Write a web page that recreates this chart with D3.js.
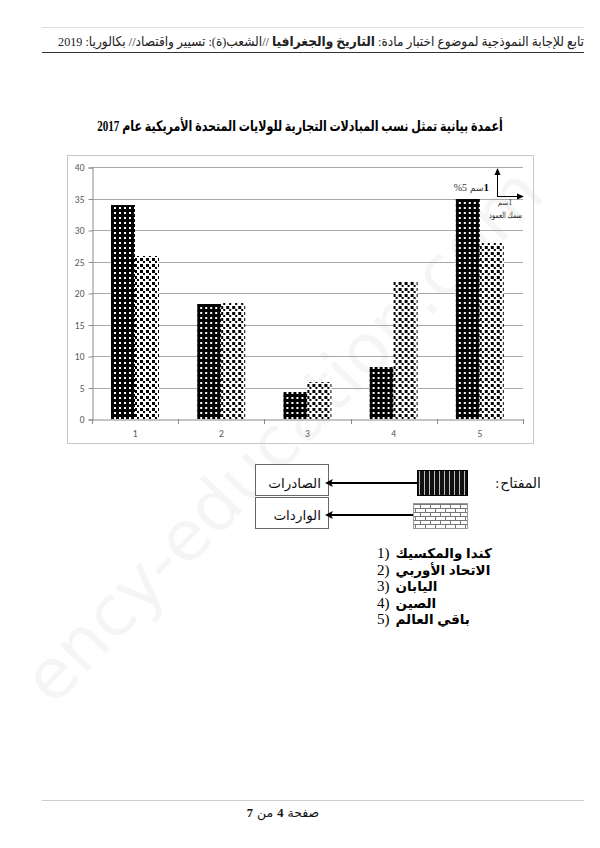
<!DOCTYPE html>
<html><head><meta charset="utf-8">
<script src="https://cdn.jsdelivr.net/npm/d3@7/dist/d3.min.js"></script>
<style>html,body{margin:0;padding:0;background:#fff;}svg{display:block;}</style>
</head><body>
<svg id="chart" width="600" height="848"></svg>
<script>
// ---- data ----
const categories = ["1", "2", "3", "4", "5"];
const seriesNames = ["الصادرات", "الواردات"];
const exportsValues = [34, 18.2, 4.3, 8.3, 35];
const importsValues = [25.8, 18.4, 5.8, 21.8, 27.9];
const yTickValues = [0, 5, 10, 15, 20, 25, 30, 35, 40];
const regionNames = ["كندا والمكسيك", "الاتحاد الأوربي", "اليابان", "الصين", "باقي العالم"];
const headerText = ["تابع للإجابة النموذجية لموضوع اختبار مادة: ", "التاريخ والجغرافيا", " //الشعب(ة): تسيير واقتصاد// بكالوريا: 2019"];
const titleText = "أعمدة بيانية تمثل نسب المبادلات التجارية للولايات المتحدة الأمريكية عام 2017";

const svg = d3.select("#chart");
const AR = "'Liberation Serif','DejaVu Sans',serif";
const ARS = "'Liberation Sans','DejaVu Sans',sans-serif";

// place pieces of text in visual left-to-right order
function run(parent, x, y, align, pieces, gap) {
  gap = gap || 0;
  const nodes = pieces.map(p => {
    const t = parent.append("text").attr("y", y).attr("text-anchor", "start").attr("direction", "ltr")
      .attr("font-family", p.font || AR).attr("font-size", p.size || 13)
      .attr("font-weight", p.weight || "normal").attr("fill", p.fill || "#111").text(p.t);
    return { t, w: t.node().getComputedTextLength(), g: p.gap == null ? gap : p.gap };
  });
  const total = nodes.reduce((s, n, i) => s + n.w + (i ? n.g : 0), 0);
  let cx = align === "end" ? x - total : align === "middle" ? x - total / 2 : x;
  nodes.forEach((n, i) => { if (i) cx += n.g; n.t.attr("x", cx); cx += n.w; });
}
// squeeze a text (drawn at origin) horizontally to a target width
function squeeze(t, tx, ty, target) {
  const w = t.node().getComputedTextLength();
  const sx = Math.min(1, target / w);
  t.attr("transform", `translate(${tx},${ty}) scale(${sx},1)`);
}

// ---- patterns ----
const defs = svg.append("defs");
const pDots = defs.append("pattern").attr("id", "pDots").attr("patternUnits", "userSpaceOnUse").attr("width", 5).attr("height", 5);
pDots.append("rect").attr("width", 5).attr("height", 5).attr("fill", "#000");
pDots.append("rect").attr("x", 2).attr("y", 2).attr("width", 2).attr("height", 2).attr("fill", "#fff");

const pChk = defs.append("pattern").attr("id", "pChk").attr("patternUnits", "userSpaceOnUse").attr("width", 6).attr("height", 6);
pChk.append("rect").attr("width", 6).attr("height", 6).attr("fill", "#fff");
pChk.append("rect").attr("x", 0).attr("y", 0).attr("width", 3).attr("height", 3).attr("fill", "#000");
pChk.append("rect").attr("x", 3).attr("y", 3).attr("width", 2).attr("height", 2).attr("fill", "#000");

const pStripe = defs.append("pattern").attr("id", "pStripe").attr("patternUnits", "userSpaceOnUse").attr("width", 5).attr("height", 5);
pStripe.append("rect").attr("width", 5).attr("height", 5).attr("fill", "#111");
pStripe.append("rect").attr("x", 4).attr("width", 1).attr("height", 5).attr("fill", "#bbb");

const pBrick = defs.append("pattern").attr("id", "pBrick").attr("patternUnits", "userSpaceOnUse").attr("width", 10).attr("height", 8);
pBrick.append("rect").attr("width", 10).attr("height", 8).attr("fill", "#fff");
pBrick.append("path").attr("d", "M0,0.5H10M0,4.5H10M0.5,0V4.5M5.5,4.5V8").attr("stroke", "#777").attr("stroke-width", 1).attr("fill", "none");

// ---- watermark (behind) ----
svg.append("text").attr("transform", "translate(300,452) rotate(-46)").attr("text-anchor", "middle")
  .attr("font-family", "'DejaVu Sans',sans-serif").attr("font-size", 70).attr("fill", "#000").attr("fill-opacity", 0.04)
  .text("ency-education.com");

// ---- header ----
svg.append("line").attr("x1", 42).attr("x2", 584).attr("y1", 27.5).attr("y2", 27.5).attr("stroke", "#ddd");
const hdr = svg.append("text").attr("x", 0).attr("y", 0).attr("direction", "rtl").attr("text-anchor", "start")
  .attr("font-family", AR).attr("font-size", 13.5).attr("fill", "#222");
hdr.append("tspan").text(headerText[0]);
hdr.append("tspan").attr("font-weight", "bold").text(headerText[1]);
hdr.append("tspan").text(headerText[2]);
squeeze(hdr, 584, 46, 526);
svg.append("line").attr("x1", 42).attr("x2", 584).attr("y1", 52.5).attr("y2", 52.5).attr("stroke", "#333").attr("stroke-width", 1);

// ---- title ----
const title = svg.append("text").attr("x", 0).attr("y", 0).attr("text-anchor", "middle")
  .attr("direction", "rtl").attr("font-family", AR).attr("font-weight", "bold").attr("font-size", 14.5).attr("fill", "#000")
  .text(titleText);
squeeze(title, 300, 131, 406);

// ---- chart frame ----
svg.append("rect").attr("x", 67.5).attr("y", 155.5).attr("width", 466).attr("height", 288).attr("fill", "none").attr("stroke", "#c8c8c8");

const x = d3.scaleBand().domain(categories).range([92, 523]).paddingInner(0).paddingOuter(0);
const bw = x.bandwidth();
const xs = d3.scaleBand().domain(seriesNames).range([bw * 0.22, bw * 0.78]).padding(0);
const y = d3.scaleLinear().domain([0, 40]).range([419, 167]);

// gridlines
svg.append("g").selectAll("line").data(yTickValues.filter(d => d > 0)).join("line")
  .attr("x1", 92).attr("x2", 523).attr("y1", d => Math.round(y(d)) + 0.5).attr("y2", d => Math.round(y(d)) + 0.5)
  .attr("stroke", "#a8a8a8");

// y axis
const yAxis = svg.append("g").attr("transform", "translate(92.5,0.5)")
  .call(d3.axisLeft(y).tickValues(yTickValues).tickSize(4).tickPadding(4));
yAxis.select(".domain").attr("stroke", "#8a8a8a");
yAxis.selectAll(".tick line").attr("stroke", "#8a8a8a");
yAxis.selectAll("text").attr("font-family", "Carlito,'Liberation Sans',sans-serif").attr("font-size", 9.5).attr("fill", "#555");

// bars
const rows = categories.map((c, i) => ({ c, vals: [exportsValues[i], importsValues[i]] }));
const groups = svg.append("g").selectAll("g").data(rows).join("g").attr("transform", d => `translate(${x(d.c)},0)`);
groups.selectAll("rect").data(d => d.vals.map((v, j) => ({ s: seriesNames[j], v, j }))).join("rect")
  .attr("x", d => Math.round(xs(d.s))).attr("width", Math.round(xs.bandwidth()))
  .attr("y", d => Math.round(y(d.v))).attr("height", d => Math.round(y(0)) - Math.round(y(d.v)))
  .attr("fill", d => d.j === 0 ? "url(#pDots)" : "url(#pChk)");

// x axis
const xAxis = svg.append("g").attr("transform", "translate(0,419.5)")
  .call(d3.axisBottom(x).tickSize(0).tickPadding(11));
xAxis.select(".domain").attr("stroke", "#8a8a8a");
xAxis.selectAll("text").attr("font-family", "Carlito,'Liberation Sans',sans-serif").attr("font-size", 9.5).attr("fill", "#555");
svg.append("g").selectAll("line").data(categories.concat(["end"])).join("line")
  .attr("x1", d => Math.round(d === "end" ? x.range()[1] : x(d)) + 0.5)
  .attr("x2", d => Math.round(d === "end" ? x.range()[1] : x(d)) + 0.5)
  .attr("y1", 419).attr("y2", 424).attr("stroke", "#8a8a8a");

// scale annotation
const ann = svg.append("g").attr("stroke", "#000").attr("fill", "#000");
ann.append("line").attr("x1", 497.5).attr("x2", 497.5).attr("y1", 197).attr("y2", 172).attr("stroke-width", 1);
ann.append("path").attr("d", "M497.5,168 L494.5,175 L500.5,175 Z").attr("stroke", "none");
ann.append("line").attr("x1", 497).attr("x2", 519).attr("y1", 196.5).attr("y2", 196.5).attr("stroke-width", 1);
ann.append("path").attr("d", "M524,196.5 L517,193.5 L517,199.5 Z").attr("stroke", "none");
const annG = svg.append("g");
run(annG, 489, 191, "end", [
  { t: "%5", size: 10, fill: "#333" },
  { t: "سم", size: 9, fill: "#333", gap: 3 },
  { t: "1", size: 11, weight: "bold", fill: "#000", gap: 0 }
]);
run(annG, 505, 205, "middle", [
  { t: "سم", size: 7, fill: "#333" },
  { t: "1", size: 8, fill: "#333" }
]);
const thick = annG.append("text").attr("x", 0).attr("y", 0).attr("direction", "rtl").attr("text-anchor", "start")
  .attr("font-family", AR).attr("font-size", 8.5).attr("fill", "#222").text("سمك العمود");
squeeze(thick, 522, 218, 33);

// ---- legend ----
run(svg.append("g"), 541, 488, "end", [
  { t: ":", size: 14, fill: "#111" },
  { t: "المفتاح", size: 14, fill: "#111", gap: 1 }
]);
const legendRows = [
  { name: seriesNames[0], fill: "url(#pStripe)", sx: 417, sy: 470, sw: 50, sh: 25, by: 464, ay: 483 },
  { name: seriesNames[1], fill: "url(#pBrick)", sx: 413, sy: 503, sw: 54, sh: 25, by: 497, ay: 515 }
];
const lg = svg.append("g");
legendRows.forEach(r => {
  lg.append("rect").attr("x", 255.5).attr("y", r.by + 0.5).attr("width", 73).attr("height", 31).attr("fill", "#fff").attr("stroke", "#666");
  run(lg, 321, r.ay + 5, "end", [{ t: r.name, size: 13.5, fill: "#111" }]);
  lg.append("rect").attr("x", r.sx + 0.5).attr("y", r.sy + 0.5).attr("width", r.sw).attr("height", r.sh)
    .attr("fill", r.fill).attr("stroke", r.name === seriesNames[0] ? "#000" : "#999");
  lg.append("line").attr("x1", r.sx).attr("x2", 331).attr("y1", r.ay).attr("y2", r.ay).attr("stroke", "#000").attr("stroke-width", 2);
  lg.append("path").attr("d", `M325,${r.ay} L333,${r.ay - 4} L331,${r.ay} L333,${r.ay + 4} Z`).attr("fill", "#000");
});

// ---- region list ----
const list = svg.append("g");
regionNames.forEach((n, i) => {
  run(list, 377, 558 + i * 16.5, "start", [
    { t: categories[i] + ")", font: "'Liberation Serif',serif", size: 15, fill: "#000" },
    { t: n, font: ARS, size: 13.5, weight: "bold", fill: "#000", gap: 6 }
  ]);
});

// ---- footer ----
svg.append("line").attr("x1", 42).attr("x2", 584).attr("y1", 800.5).attr("y2", 800.5).attr("stroke", "#ccc");
run(svg.append("g"), 283, 817, "middle", [
  { t: "7", size: 12.5, weight: "bold" },
  { t: "من", size: 12.5, gap: 4 },
  { t: "4", size: 12.5, weight: "bold", gap: 4 },
  { t: "صفحة", size: 12.5, gap: 4 }
]);
</script>
</body></html>
